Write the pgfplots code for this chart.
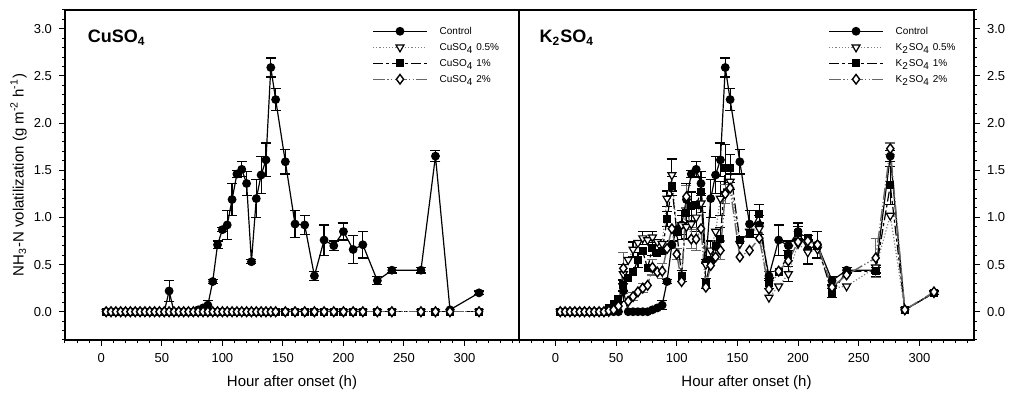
\documentclass[border=0pt]{standalone}
\usepackage{fontspec}
\setmainfont{Liberation Sans}
\usepackage{pgfplots}
\pgfplotsset{compat=1.18}
\usepackage{pgfplotstable}

% Control (same in both panels)
\pgfplotstableread{
t c
4 0
8 0
12 0
16 0
20 0
24 0
28 0
32 0
36 0
40 0
44 0
48 0
52 0
56 0.22
60 0
64 0
68 0
72 0
76 0
80 0.02
84 0.04
88 0.07
92 0.32
96 0.71
100 0.87
104 0.92
108 1.19
112 1.46
116 1.51
120 1.36
124 0.53
128 1.20
132 1.45
136 1.61
140 2.59
144 2.25
152 1.59
160 0.93
168 0.92
176 0.38
184 0.76
192 0.70
200 0.85
208 0.66
216 0.71
228 0.33
240 0.44
264 0.44
276 1.65
288 0.02
312 0.20
}\ctrl

\pgfplotstableread{
t c e
56 0.22 0.11
88 0.07 0.05
92 0.32 0.02
96 0.71 0.04
100 0.87 0.02
104 0.92 0.15
108 1.19 0.17
112 1.46 0.04
116 1.51 0.08
120 1.36 0.13
124 0.53 0.02
128 1.20 0.20
132 1.45 0.20
136 1.61 0.18
140 2.59 0.10
144 2.25 0.12
152 1.59 0.13
160 0.93 0.14
168 0.92 0.10
176 0.38 0.05
184 0.76 0.16
192 0.70 0.05
200 0.85 0.09
208 0.66 0.15
216 0.71 0.14
228 0.33 0.04
240 0.44 0.03
264 0.44 0.03
276 1.65 0.06
312 0.20 0.02
}\ctrlerr

% CuSO4 treatments (all zero)
\pgfplotstableread{
t a b d
4 0 0 0
8 0 0 0
12 0 0 0
16 0 0 0
20 0 0 0
24 0 0 0
28 0 0 0
32 0 0 0
36 0 0 0
40 0 0 0
44 0 0 0
48 0 0 0
52 0 0 0
56 0 0 0
60 0 0 0
64 0 0 0
68 0 0 0
72 0 0 0
76 0 0 0
80 0 0 0
84 0 0 0
88 0 0 0
92 0 0 0
96 0 0 0
100 0 0 0
104 0 0 0
108 0 0 0
112 0 0 0
116 0 0 0
120 0 0 0
124 0 0 0
128 0 0 0
132 0 0 0
136 0 0 0
140 0 0 0
144 0 0 0
152 0 0 0
160 0 0 0
168 0 0 0
176 0 0 0
184 0 0 0
192 0 0 0
200 0 0 0
208 0 0 0
216 0 0 0
228 0 0 0
240 0 0 0
264 0 0 0
276 0 0 0
288 0 0 0
312 0 0 0
}\cu

% K2SO4 treatments
\pgfplotstableread{
t a b d
4 0 0 0
8 0 0 0
12 0 0 0
16 0 0 0
20 0 0 0
24 0 0 0
28 0 0 0
32 0 0 0
36 0 0 0
40 0 0 0
44 0 0.04 0.01
48 0.03 0.08 0.02
52 0.08 0.13 0.06
56 0.40 0.28 0.46
60 0.55 0.36 0.11
64 0.66 0.42 0.16
68 0.73 0.55 0.21
72 0.78 0.64 0.25
76 0.76 0.46 0.28
80 0.79 0.68 0.47
84 0.74 0.62 0.42
88 0.72 0.64 0.43
92 1.20 0.98 0.67
96 1.45 1.33 0.88
100 0.85 0.85 0.61
104 0.92 0.38 0.32
108 0.90 1.05 1.22
112 0.93 1.12 0.77
116 1.00 1.13 0.77
120 1.15 1.27 0.88
124 0.50 0.30 0.26
128 0.65 0.55 0.49
132 0.85 0.70 0.58
136 1.20 0.77 0.65
140 1.25 1.52 1.25
144 1.38 1.52 1.31
152 0.72 0.76 0.58
160 0.85 0.83 0.65
168 0.88 1.04 0.78
176 0.15 0.30 0.24
184 0.27 0.42 0.43
192 0.40 0.60 0.54
200 0.72 0.84 0.74
208 0.63 0.78 0.75
216 0.66 0.70 0.71
228 0.25 0.20 0.26
240 0.27 0.43 0.39
264 0.47 0.43 0.57
276 1.02 1.34 1.73
288 0.02 0.02 0.02
312 0.20 0.20 0.21
}\kso

\pgfplotstableread{
t v e
56 0.40 0.10
64 0.66 0.08
72 0.78 0.07
80 0.79 0.06
92 1.20 0.08
96 1.45 0.17
104 0.92 0.10
108 0.90 0.12
116 1.00 0.15
120 1.15 0.10
128 0.65 0.10
136 1.20 0.18
144 1.38 0.08
192 0.40 0.08
208 0.63 0.13
}\kaerr

\pgfplotstableread{
t v e
56 0.28 0.06
68 0.55 0.08
80 0.68 0.08
92 0.98 0.08
96 1.33 0.10
104 0.38 0.06
112 1.12 0.15
120 1.27 0.15
124 0.30 0.05
136 0.77 0.12
140 1.52 0.25
144 1.52 0.15
168 1.04 0.10
176 0.30 0.05
200 0.84 0.06
228 0.20 0.05
264 0.43 0.06
276 1.34 0.20
}\kberr

\pgfplotstableread{
t v e
56 0.46 0.17
64 0.16 0.04
72 0.25 0.05
80 0.47 0.08
88 0.43 0.08
100 0.61 0.06
108 1.22 0.12
112 0.77 0.10
116 0.77 0.12
136 0.65 0.10
140 1.25 0.10
264 0.57 0.21
276 1.73 0.06
}\kderr

\pgfplotsset{
  panel/.style={
    anchor=south west, scale only axis, width=227pt, height=165pt,
    xmin=-30, xmax=345, ymin=-0.3, ymax=3.2,
    xtick={0,50,...,300}, minor xtick={-30,-20,...,340},
    ytick={0,0.5,...,3}, minor ytick={-0.3,-0.2,...,3.2},
    tick align=outside, major tick length=3pt, minor tick length=1.6pt,
    xtick pos=lower,
    tick style={black, line width=0.5pt},
    axis line style={line width=0.7pt},
    ticklabel style={font=\fontsize{6.5}{7}\selectfont},
    y tick label style={/pgf/number format/.cd, fixed, fixed zerofill, precision=1, /tikz/.cd},
    /pgf/number format/assume math mode=true,
    xlabel={Hour after onset (h)},
    xlabel style={font=\fontsize{7.5}{9}\selectfont, at={(axis description cs:0.5,-0.13)}, anchor=center},
    legend style={draw=none, fill=none, font=\fontsize{5}{6}\selectfont, anchor=north west,
      inner sep=0pt, row sep=1pt, cells={anchor=west},
      nodes={inner sep=1pt, text height=4pt, text depth=1pt},
      /tikz/every odd column/.append style={column sep=5pt}},
    legend image code/.code={\draw[mark repeat=2,mark phase=2] plot coordinates {(0pt,0pt) (13.5pt,0pt) (27pt,0pt)};},
  },
  ctrl/.style={black, line width=0.6pt, mark=*, mark size=1.9pt, mark options={solid, fill=black}},
  half/.style={gray, line width=0.6pt, dash pattern=on 0.6pt off 1pt, mark=triangle*, mark size=2.3pt, mark options={solid, fill=white, draw=black, rotate=180}},
  one/.style={black, line width=0.6pt, dash pattern=on 5pt off 1.5pt on 1.5pt off 1.5pt, mark=square*, mark size=1.7pt, mark options={solid, fill=black}},
  two/.style={gray!80!black, line width=0.7pt, dash pattern=on 6pt off 1.2pt on 0.6pt off 1.2pt on 0.6pt off 1.2pt, mark=diamond*, mark size=2.4pt, mark options={solid, fill=white, draw=black}},
  errb/.style={draw=none, mark=none, forget plot,
    error bars/.cd, y dir=both, y explicit,
    error bar style={line width=0.6pt, solid, #1},
    error mark options={rotate=90, mark size=2.5pt, line width=0.6pt, solid, #1}},
  errb/.default=black,
}

\begin{document}
\begin{tikzpicture}
\path[use as bounding box] (0,0) rectangle (509.5pt,202.5pt);

\begin{axis}[panel, at={(32.5pt,32.5pt)}, ytick pos=left,
  ylabel={NH\textsubscript{3}-N volatilization (g m\textsuperscript{-2} h\textsuperscript{-1})},
  ylabel style={font=\fontsize{7.5}{9}\selectfont, at={(axis description cs:-0.1024,0.5)}, anchor=center},
  legend style={at={(axis description cs:0.676,0.958)}}]
\addplot[errb] table[x=t, y=c, y error=e] {\ctrlerr};
\addplot[ctrl] table[x=t, y=c] {\ctrl};
\addplot[half] table[x=t, y=a] {\cu};
\addplot[one] table[x=t, y=b] {\cu};
\addplot[two] table[x=t, y=d] {\cu};
\legend{Control, CuSO\textsubscript{4} 0.5\%, CuSO\textsubscript{4} 1\%, CuSO\textsubscript{4} 2\%}
\node[anchor=base west, font=\bfseries\fontsize{9}{10}\selectfont] at (rel axis cs:0.035,0.9) {CuSO\textsubscript{4}};
\end{axis}

\begin{axis}[panel, at={(259.5pt,32.5pt)}, width=227.5pt, ytick pos=right, yticklabel pos=right,
  legend style={at={(axis description cs:0.679,0.958)}}]
\addplot[errb] table[x=t, y=c, y error=e] {\ctrlerr};
\addplot[errb] table[x=t, y=v, y error=e] {\kaerr};
\addplot[errb] table[x=t, y=v, y error=e] {\kberr};
\addplot[errb=gray!80!black] table[x=t, y=v, y error=e] {\kderr};
\addplot[ctrl] table[x=t, y=c] {\ctrl};
\addplot[half] table[x=t, y=a] {\kso};
\addplot[one] table[x=t, y=b] {\kso};
\addplot[two] table[x=t, y=d] {\kso};
\legend{Control, K\textsubscript{2}SO\textsubscript{4} 0.5\%, K\textsubscript{2}SO\textsubscript{4} 1\%, K\textsubscript{2}SO\textsubscript{4} 2\%}
\node[anchor=base west, font=\bfseries\fontsize{9}{10}\selectfont] at (rel axis cs:0.03,0.9) {K\textsubscript{2}SO\textsubscript{4}};
\end{axis}
\end{tikzpicture}
\end{document}
